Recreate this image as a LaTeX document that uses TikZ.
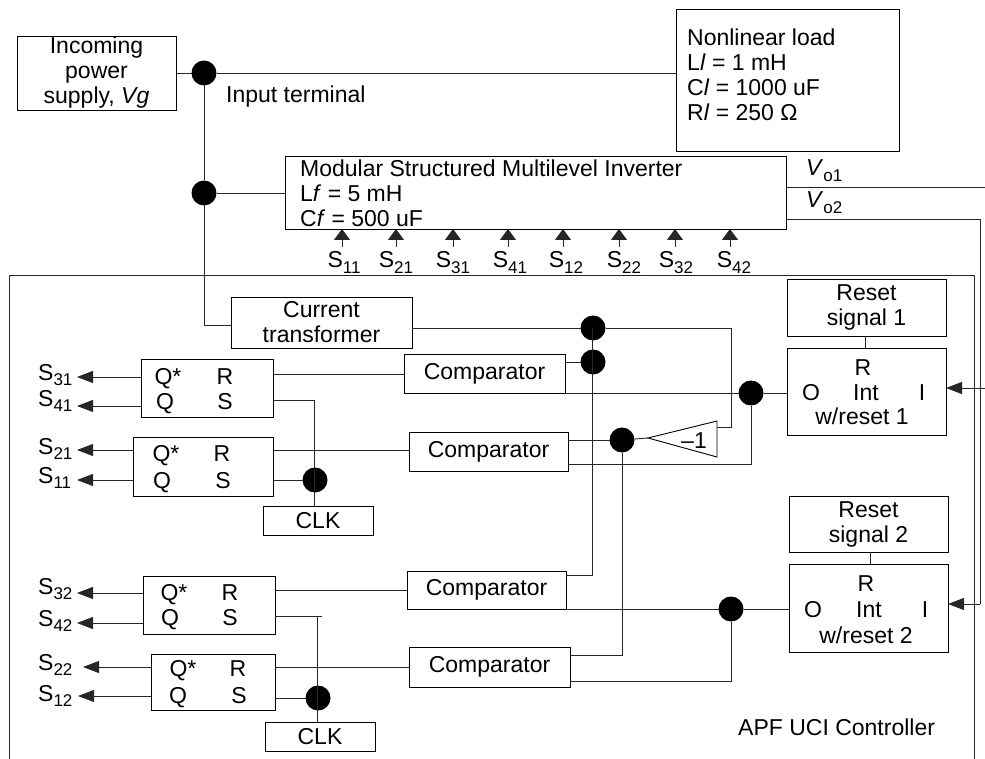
\documentclass[tikz,border=0pt]{standalone}
\usepackage{fontspec}
\setmainfont{Liberation Sans}
\usetikzlibrary{arrows.meta,shapes.geometric}
\newcommand{\lowsub}[1]{\raisebox{-5.5pt}{\fontsize{17}{17}\selectfont #1}}
\newcommand{\sw}[1]{S\lowsub{#1}}
\newcommand{\boxat}[6][]{\node[boxn,#1,minimum width={(#5-#3)*1pt},minimum height={(#6-#4)*1pt}] (#2) at ({(#3+#5)/2},{(#4+#6)/2}) {};}
\newcommand{\boxtxt}[7][]{\node[boxn,#1,align=center,minimum width={(#5-#3)*1pt},minimum height={(#6-#4)*1pt}] (#2) at ({(#3+#5)/2},{(#4+#6)/2}) {#7};}
\tikzset{
  boxn/.style={draw=black,line width=0.9pt,inner sep=0pt,outer sep=0pt,rectangle},
  lbl/.style={inner sep=0pt,anchor=base,yshift=-8pt},
  lblw/.style={inner sep=0pt,anchor=base west,yshift=-8pt},
  dotn/.style={circle,fill=black,inner sep=0pt,minimum size=25pt,outer sep=0pt},
  wire/.style={line width=0.9pt,draw=black!85},
  leftarr/.style={wire,-{Triangle[length=16pt,width=12pt]}},
  uparr/.style={wire,-{Triangle[length=11pt,width=16pt]}},
  every node/.append style={font=\fontsize{23}{25}\selectfont}
}
\begin{document}
\begin{tikzpicture}[x=1pt,y=-1pt]
\useasboundingbox (0,0) rectangle (985,759);
% controller boundary
\draw[wire] (9,759) -- (9,275) -- (974,275) -- (974,759);

% top row
\boxtxt{src}{17}{36}{176}{110}{Incoming\\power\\supply, \textit{Vg}}
\boxat{load}{676}{9}{899}{151}
\node[inner sep=0pt,anchor=north west,align=left] (loadt) at (687,28.5) {Nonlinear load\\L\textit{l} = 1 mH\\C\textit{l} = 1000 uF\\R\textit{l} = 250 Ω};
\node[dotn] (d1) at (204,73) {};
\node[dotn] (d2) at (204,193) {};
\node[lblw] (inp) at (226,95) {Input terminal};
\boxat{inv}{285}{156}{786}{229}
\node[inner sep=0pt,anchor=north west,align=left] (invt) at (300,159.5) {Modular Structured Multilevel Inverter\\L\textit{f} = 5 mH\\C\textit{f} = 500 uF};
\node[lblw] (vo1) at (806,168) {\textit{V}\lowsub{o1}};
\node[lblw] (vo2) at (806,200) {\textit{V}\lowsub{o2}};
\draw[wire] (src.east |- d1) -- (d1);
\draw[wire] (d1) -- (load.west |- d1);
\draw[wire] (d1) -- (d2);
\draw[wire] (d2) -- (inv.west |- d2);

% switch inputs
\foreach \nm/\tx/\lx/\ax in {11/11/344/342,21/21/396/396,31/31/453/453,41/41/510/508,12/12/566/563,22/22/624/619,32/32/676/675,42/42/734/730}{
  \node[lbl] (u\nm) at (\lx,260) {\sw{\tx}};
  \coordinate (ut\nm) at (\ax,247);
  \draw[uparr] (ut\nm) -- (ut\nm |- inv.south);
}

% current transformer
\boxtxt{ct}{231}{297}{412}{348}{Current\\transformer}
\draw[wire] (d2) |- (ct.west |- 0,325);

% comparators
\boxtxt{c1}{404}{354}{565}{393}{Comparator}
\boxtxt{c2}{409}{432}{568}{471}{Comparator}
\boxtxt{c3}{407}{571}{566}{609}{Comparator}
\boxtxt{c4}{409}{647}{570}{687}{Comparator}

% flip flops
\boxat{ff1}{141}{359}{273}{417}
\node[lbl] (ff1qs) at (168,376) {Q*};
\node[lbl] (ff1r) at (225,376) {R};
\node[lbl] (ff1q) at (165,401) {Q};
\node[lbl] (ff1s) at (225,401) {S};
\boxat{ff2}{133}{437}{273}{496}
\node[lbl] (ff2qs) at (166,453) {Q*};
\node[lbl] (ff2r) at (222,453) {R};
\node[lbl] (ff2q) at (162,480) {Q};
\node[lbl] (ff2s) at (223,480) {S};
\boxat{ff3}{143}{576}{275}{634}
\node[lbl] (ff3qs) at (174,592) {Q*};
\node[lbl] (ff3r) at (230,592) {R};
\node[lbl] (ff3q) at (170,617) {Q};
\node[lbl] (ff3s) at (230,617) {S};
\boxat{ff4}{151}{654}{275}{710}
\node[lbl] (ff4qs) at (183,668) {Q*};
\node[lbl] (ff4r) at (238,668) {R};
\node[lbl] (ff4q) at (178,695) {Q};
\node[lbl] (ff4s) at (239,695) {S};
\boxtxt{clk1}{263}{506}{373}{535}{CLK}
\boxtxt{clk2}{265}{722}{375}{751}{CLK}

% switch outputs
\foreach \nm/\y/\ly/\tip in {31/377/372/77,41/406/398/77,21/450/446/77,11/480/475/77,32/593/586/77,42/623/618/77,22/667/662/83,12/696/693/78}{
  \node[lblw] (o\nm) at (38,\ly) {\sw{\nm}};
  \coordinate (ot\nm) at (\tip,\y);
}
\draw[leftarr] (ff1.west |- ot31) -- (ot31);
\draw[leftarr] (ff1.west |- ot41) -- (ot41);
\draw[leftarr] (ff2.west |- ot21) -- (ot21);
\draw[leftarr] (ff2.west |- ot11) -- (ot11);
\draw[leftarr] (ff3.west |- ot32) -- (ot32);
\draw[leftarr] (ff3.west |- ot42) -- (ot42);
\draw[leftarr] (ff4.west |- ot22) -- (ot22);
\draw[leftarr] (ff4.west |- ot12) -- (ot12);

% dots in controller
\node[dotn] (d3) at (593,328) {};
\node[dotn] (d4) at (593,362) {};
\node[dotn] (d5) at (622,440) {};
\node[dotn] (d6) at (751,393) {};
\node[dotn] (d7) at (731,609) {};
\node[dotn] (d8) at (315,480) {};
\node[dotn] (d9) at (318,698) {};

% inverter gain
\coordinate (tr1) at (717,421);
\coordinate (tr2) at (717,457);
\node[inner sep=0pt,outer sep=0pt,minimum size=0pt] (trtip) at (648,438) {};
\draw[boxn,fill=none] (tr1) -- (tr2) -- (trtip.center) -- cycle;
\node[lbl] (trt) at (694,440) {–1};

% reset and integrators
\boxtxt{r1}{787}{279}{946}{336}{Reset\\signal 1}
\boxat{i1}{787}{348}{946}{435}
\node[lbl] (i1r) at (863,367) {R};
\node[lbl] (i1o) at (811,392) {O};
\node[lbl] (i1n) at (866,392) {Int};
\node[lbl] (i1i) at (922,392) {I};
\node[lbl] (i1w) at (862,416) {w/reset 1};
\boxtxt{r2}{789}{496}{948}{552}{Reset\\signal 2}
\boxat{i2}{789}{564}{948}{652}
\node[lbl] (i2r) at (866,583) {R};
\node[lbl] (i2o) at (813,609) {O};
\node[lbl] (i2n) at (869,609) {Int};
\node[lbl] (i2i) at (925,609) {I};
\node[lbl] (i2w) at (866,635) {w/reset 2};
\node[lblw] (apf) at (738,727) {APF UCI Controller};

% wiring
\draw[wire] (ct.east |- d3) -- (d3);
\draw[wire] (d3) -- (731,328) -- (731,427) -- (tr1 |- 0,427);
\draw[wire] (d3.center -| 592,0) -- (592,575) -- (c3.east |- 0,575);
\draw[wire] (c1.east |- d4) -- (d4);
\draw[wire] (c1.east |- d6) -- (d6);
\draw[wire] (d6) -- (i1.west |- d6);
\draw[wire] (d6) -- (d6 |- 0,464) -- (c2.east |- 0,464);
\draw[wire] (c2.east |- d5) -- (d5);
\draw[wire] (d5) -- (trtip);
\draw[wire] (d5) -- (d5 |- 0,655) -- (c4.east |- 0,655);
\draw[wire] (c3.east |- d7) -- (d7);
\draw[wire] (d7) -- (i2.west |- d7);
\draw[wire] (d7) -- (d7 |- 0,681) -- (c4.east |- 0,681);
\draw[wire] (ff1.east |- 0,374) -- (c1.west |- 0,374);
\draw[wire] (ff2.east |- 0,450) -- (c2.west |- 0,450);
\draw[wire] (ff3.east |- 0,590) -- (c3.west |- 0,590);
\draw[wire] (ff4.east |- 0,667) -- (c4.west |- 0,667);
\draw[wire] (ff1.east |- 0,400) -- (314,400) -- (314,506) -- (clk1.north -| 314,0);
\draw[wire] (ff2.east |- d8) -- (d8);
\draw[wire] (ff3.east |- 0,616) -- (322,616);
\draw[wire] (317,616) -- (clk2.north -| 317,0);
\draw[wire] (ff4.east |- d9) -- (d9);
\draw[wire] (r1.south -| 865,0) -- (i1.north -| 865,0);
\draw[wire] (r2.south -| 870,0) -- (i2.north -| 870,0);

% outputs of inverter
\coordinate (e1) at (985,187);
\coordinate (e2) at (985,388);
\draw[wire] (inv.east |- e1) -- (e1);
\draw[wire] (inv.east |- 0,219) -- (980,219) -- (980,604);
\draw[leftarr] (980,604) -- (i2.east |- 0,604);
\draw[leftarr] (e2) -- (i1.east |- e2);
\end{tikzpicture}
\end{document}
